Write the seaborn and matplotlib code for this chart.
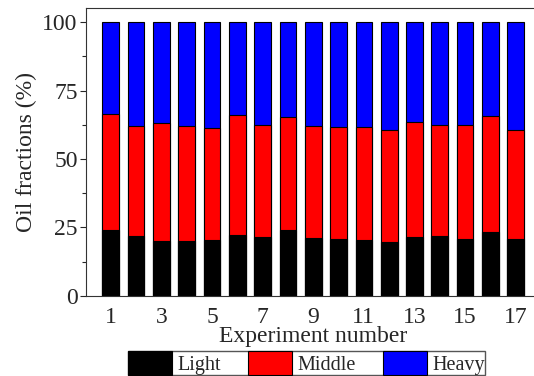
import matplotlib
matplotlib.use("Agg")
import matplotlib.pyplot as plt
import seaborn as sns
import pandas as pd
from matplotlib.ticker import MultipleLocator
from matplotlib.patches import Patch

experiments = list(range(1, 18))
light = [24.0, 21.9, 20.1, 20.0, 20.5, 22.1, 21.6, 24.0, 21.2, 20.6, 20.4, 19.8, 21.5, 21.8, 20.6, 23.3, 20.6]
middle = [42.3, 40.3, 42.9, 42.1, 41.0, 44.0, 40.9, 41.2, 41.0, 41.2, 41.2, 40.7, 41.9, 40.5, 41.7, 42.3, 39.9]
heavy = [33.7, 37.8, 37.0, 37.9, 38.5, 33.9, 37.5, 34.8, 37.8, 38.2, 38.4, 39.5, 36.6, 37.7, 37.7, 34.4, 39.5]
fractions = ["Light", "Middle", "Heavy"]
colors = ["#000000", "#ff0000", "#0000ff"]
x_ticks = [1, 3, 5, 7, 9, 11, 13, 15, 17]

sns.set_theme(style="ticks")
plt.rcParams["font.family"] = ["Liberation Serif", "DejaVu Serif"]
FS = 17

df = pd.DataFrame({"exp": experiments, "Light": light, "Middle": middle, "Heavy": heavy})
df["cum_middle"] = df["Light"] + df["Middle"]
df["cum_heavy"] = df["cum_middle"] + df["Heavy"]

fig = plt.figure(figsize=(5.34, 3.76), dpi=100)
ax = fig.add_axes([86 / 534, 1 - 295.7 / 376, (541 - 86) / 534, (295.7 - 8.3) / 376])

# stacked bars drawn as overlapping cumulative totals, tallest first
for col, c in zip(["cum_heavy", "cum_middle", "Light"], colors[::-1]):
    sns.barplot(data=df, x="exp", y=col, native_scale=True, width=0.66,
                color=c, saturation=1, edgecolor="black", linewidth=0.8, ax=ax)

ax.set_xlim(0.02, 18)
ax.set_ylim(0, 105.1)
ax.set_xticks(x_ticks)
ax.set_xticklabels([str(t) for t in x_ticks])
ax.yaxis.set_major_locator(MultipleLocator(25))
ax.yaxis.set_minor_locator(MultipleLocator(12.5))
ax.tick_params(axis="y", which="major", direction="out", length=4.5, width=0.8, labelsize=FS, pad=1.5)
ax.tick_params(axis="y", which="minor", direction="out", length=3, width=0.8)
ax.tick_params(axis="x", which="major", direction="in", length=0, labelsize=FS, pad=8)
ax.set_xlabel("Experiment number", fontsize=FS, labelpad=-1)
ax.set_ylabel("Oil fractions (%)", fontsize=FS, labelpad=4)
for s in ax.spines.values():
    s.set_linewidth(0.8)
    s.set_color("#333333")

handles = [Patch(facecolor=c, edgecolor="black", linewidth=0.8) for c in colors]
fig.legend(handles, fractions, loc="upper center", bbox_to_anchor=(306.5 / 534, 1 - 350.7 / 376),
           ncol=3, frameon=True, fancybox=False, edgecolor="#555555", framealpha=1,
           fontsize=14.5, handlelength=2.2, handleheight=1.5, columnspacing=1.35,
           handletextpad=0.25, borderpad=0.0, borderaxespad=0)

fig.savefig("out.png", dpi=100)
